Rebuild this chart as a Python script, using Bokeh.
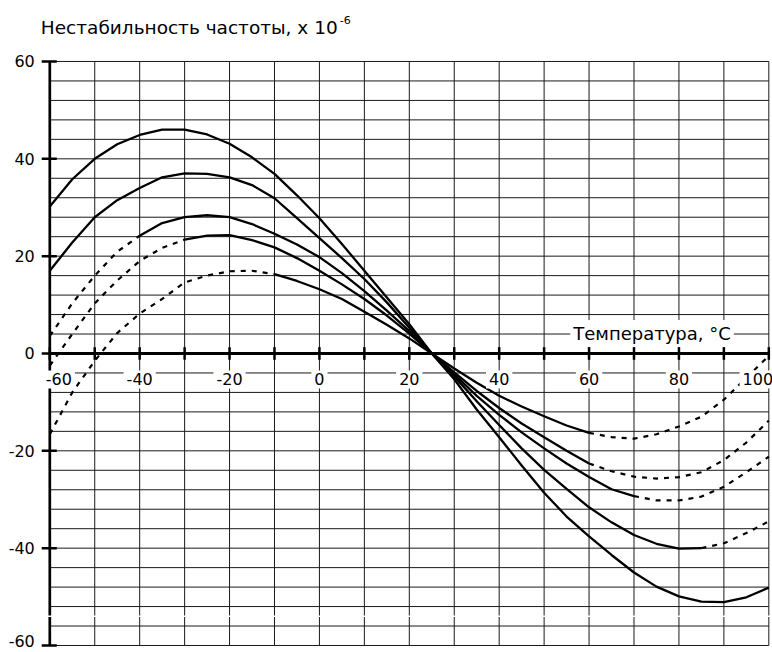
from bokeh.plotting import figure
from bokeh.models import Range1d, Label, Span
from bokeh.embed import file_html
from bokeh.resources import INLINE

# ---- data ----
temps = [-60, -55, -50, -45, -40, -35, -30, -25, -20, -15, -10, -5, 0, 5, 10, 15, 20,
         25, 30, 35, 40, 45, 50, 55, 60, 65, 70, 75, 80, 85, 90, 95, 100]

curve_a = [30.2, 35.8, 40.0, 43.0, 44.9, 46.0, 46.0, 45.0, 43.1, 40.3, 36.9, 32.5, 27.8,
           22.5, 17.0, 11.5, 6.0, 0.0, -5.3, -11.5, -17.2, -23.0, -28.6, -33.5, -37.6,
           -41.4, -45.0, -47.9, -49.9, -51.0, -51.1, -50.1, -48.1]
curve_b = [17.0, 22.8, 28.0, 31.5, 34.0, 36.2, 37.0, 36.9, 36.2, 34.6, 31.9, 27.8, 23.7,
           19.6, 15.3, 10.5, 5.3, 0.0, -4.7, -9.8, -14.7, -19.5, -23.9, -27.8, -31.6,
           -34.7, -37.3, -39.1, -40.1, -40.0, -39.0, -36.9, -34.5]
curve_c = [3.6, 10.3, 16.0, 20.9, 24.2, 26.8, 28.0, 28.4, 28.0, 26.6, 24.6, 22.4, 19.8,
           16.5, 12.8, 8.8, 4.6, 0.0, -4.3, -8.7, -12.6, -16.2, -19.5, -22.6, -25.4,
           -27.9, -29.3, -30.2, -30.2, -29.4, -27.4, -24.4, -21.2]
curve_d = [-2.5, 4.0, 10.3, 15.0, 19.0, 21.7, 23.4, 24.2, 24.3, 23.3, 21.8, 19.6, 17.0,
           14.2, 11.2, 7.8, 4.1, 0.0, -3.9, -7.7, -11.2, -14.4, -17.2, -20.0, -22.6,
           -24.2, -25.3, -25.7, -25.4, -24.4, -21.9, -18.3, -13.8]
curve_e = [-16.6, -8.0, -1.5, 4.2, 8.2, 11.2, 14.6, 16.0, 16.9, 17.0, 16.3, 14.9, 13.2,
           11.2, 8.6, 5.9, 3.1, 0.0, -3.1, -6.0, -8.7, -10.9, -12.9, -14.8, -16.3,
           -17.2, -17.5, -16.6, -15.0, -13.0, -9.5, -5.0, -0.5]

# solid (measured) part of each curve; the rest is drawn dashed
solid_ranges = [(-60, 100), (-60, 85), (-40, 70), (-30, 60), (-10, 60)]
curves = [curve_a, curve_b, curve_c, curve_d, curve_e]

x_grid = [-60, -50, -40, -30, -20, -10, 0, 10, 20, 30, 40, 50, 60, 70, 80, 90, 100]
y_grid = list(range(-60, 61, 4))
x_labels = [-60, -40, -20, 0, 20, 40, 60, 80, 100]
y_ticks = [-60, -40, -20, 0, 20, 40, 60]

title_text = "Нестабильность частоты, х 10"
title_sup = "-6"
x_title = "Температура, °C"

X0, X1 = x_grid[0], x_grid[-1]
Y0, Y1 = y_grid[0], y_grid[-1]

# ---- figure: the frame fills the whole canvas ----
p = figure(width=772, height=652, x_range=Range1d(-70.97, 100.82), y_range=Range1d(-61.44, 72.53),
           output_backend="svg", toolbar_location=None, x_axis_type=None, y_axis_type=None,
           min_border=0)
p.outline_line_color = None
p.background_fill_color = "white"
p.border_fill_color = "white"
p.xgrid.visible = False
p.ygrid.visible = False

grid_col = "#1a1a1a"
# grid lines
p.segment(x0=x_grid, y0=[Y0] * len(x_grid), x1=x_grid, y1=[Y1] * len(x_grid),
          line_color=grid_col, line_width=1)
p.segment(x0=[X0] * len(y_grid), y0=y_grid, x1=[X1] * len(y_grid), y1=y_grid,
          line_color=grid_col, line_width=1)

# y axis (left) and its ticks
p.segment(x0=[X0], y0=[Y0], x1=[X0], y1=[Y1], line_color="black", line_width=2.7)
p.segment(x0=[X0 - 1.8] * len(y_ticks), y0=y_ticks, x1=[X0 + 1.55] * len(y_ticks), y1=y_ticks,
          line_color="black", line_width=2.5)

# x axis along zero and its ticks
p.segment(x0=[X0], y0=[0], x1=[X1], y1=[0], line_color="black", line_width=3)
p.segment(x0=x_grid, y0=[-1.3] * len(x_grid), x1=x_grid, y1=[1.3] * len(x_grid),
          line_color="black", line_width=2.5)


def pick(ts, vs, lo, hi):
    xs, ys = [], []
    for t, v in zip(ts, vs):
        if lo <= t <= hi:
            xs.append(t)
            ys.append(v)
    return xs, ys


for vals, (lo, hi) in zip(curves, solid_ranges):
    xs, ys = pick(temps, vals, lo, hi)
    p.line(xs, ys, line_color="black", line_width=2.3, line_join="round")
    if lo > temps[0]:
        xs, ys = pick(temps, vals, temps[0], lo)
        p.line(xs, ys, line_color="black", line_width=2.2, line_dash="5 6")
    if hi < temps[-1]:
        xs, ys = pick(temps, vals, hi, temps[-1])
        p.line(xs, ys, line_color="black", line_width=2.2, line_dash="5 6")

# gap line across the lower part (as in the reference)
p.add_layout(Span(location=-54, dimension="width", line_color="white", line_width=1.5))

has_pad = "padding" in Label.properties()


def boxed(**kw):
    if has_pad:
        kw["padding"] = 3
    return Label(background_fill_color="white", **kw)


# y tick labels
for v in y_ticks:
    p.add_layout(Label(x=X0, y=v, text=str(v), x_offset=-15, y_offset=(4 if v == Y0 else 0),
                       text_align="right", text_baseline="middle", text_font="DejaVu Sans",
                       text_font_size="16px", text_color="black"))

# x tick labels
for v in x_labels:
    off = 9 if v == x_labels[0] else (-11 if v == x_labels[-1] else 0)
    p.add_layout(boxed(x=v, y=0, text=str(v), x_offset=off, y_offset=-26,
                       text_align="center", text_baseline="middle",
                       text_font="DejaVu Sans", text_font_size="16px", text_color="black"))

# x axis title
p.add_layout(boxed(x=X1, y=0, text=x_title, x_offset=-35, y_offset=20,
                   text_align="right", text_baseline="middle",
                   text_font="DejaVu Sans", text_font_size="18px", text_color="black"))

# chart title
p.add_layout(Label(x=X0, y=Y1, text=title_text, x_offset=-9, y_offset=34,
                   text_align="left", text_baseline="alphabetic",
                   text_font="DejaVu Sans", text_font_size="18.5px", text_color="black"))
p.add_layout(Label(x=X0, y=Y1, text=title_sup, x_offset=290, y_offset=41,
                   text_align="left", text_baseline="alphabetic",
                   text_font="DejaVu Sans", text_font_size="11px", text_color="black"))

open("out.html", "w").write(file_html(p, INLINE))
